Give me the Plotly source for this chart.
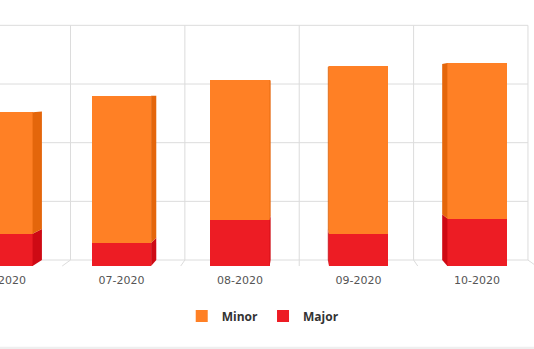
import plotly.graph_objects as go

# Monthly issue counts, stacked: Major at the base, Minor on top
months = ["06-2020", "07-2020", "08-2020", "09-2020", "10-2020"]
minor = [200, 242, 230, 276, 256]
major = [53, 38, 76, 53, 78]
grid_values = [0, 100, 200, 300, 400]

ORANGE, ORANGE_SIDE = "#FF8025", "#E4660B"
RED, RED_SIDE = "#ED1C24", "#CE0A14"
GRID = "#DCDCDC"

BAR_WIDTH = 0.5
DEPTH = 0.965            # scale of the back wall relative to the front plane
VX, VY = 2.5, 281.0      # vanishing point, in data units


def back(x, y):
    """Project a front-plane point onto the back wall of the pseudo-3D box."""
    return VX + (x - VX) * DEPTH, VY + (y - VY) * DEPTH


xs = list(range(len(months)))
fig = go.Figure()

# Darker side faces give the columns their depth
for i in xs:
    edge = i + BAR_WIDTH / 2 if i < VX else i - BAR_WIDTH / 2
    segments = [(0, major[i], RED_SIDE), (major[i], major[i] + minor[i], ORANGE_SIDE)]
    for y0, y1, col in segments:
        bx, by1 = back(edge, y1)
        _, by0 = back(edge, y0)
        fig.add_trace(go.Scatter(
            x=[edge, edge, bx, bx, edge], y=[y0, y1, by1, by0, y0],
            mode="lines", fill="toself", fillcolor=col,
            line=dict(width=0, color=col), hoverinfo="skip", showlegend=False))

fig.add_trace(go.Bar(x=xs, y=major, name="Major", marker=dict(color=RED, line=dict(width=0)),
                     width=BAR_WIDTH, legendrank=2))
fig.add_trace(go.Bar(x=xs, y=minor, name="Minor", marker=dict(color=ORANGE, line=dict(width=0)),
                     width=BAR_WIDTH, legendrank=1))

# Back-wall grid, drawn beneath the columns
shapes = []
right_wall = back(len(months) - 0.5, 0)[0]
top_y = back(0, grid_values[-1])[1]
floor_y = back(0, grid_values[0])[1]
for v in grid_values:
    gy = back(0, v)[1]
    shapes.append(dict(type="line", xref="x", yref="y", x0=-1, x1=right_wall, y0=gy, y1=gy,
                       line=dict(color=GRID, width=1), layer="below"))
for b in [i - 0.5 for i in xs] + [len(months) - 0.5]:
    bx = back(b, 0)[0]
    shapes.append(dict(type="line", xref="x", yref="y", x0=bx, x1=bx, y0=floor_y, y1=top_y,
                       line=dict(color=GRID, width=1), layer="below"))
    shapes.append(dict(type="line", xref="x", yref="y", x0=b, x1=bx, y0=0, y1=floor_y,
                       line=dict(color=GRID, width=1), layer="below"))
# thin strip along the bottom edge of the panel
shapes.append(dict(type="rect", xref="paper", yref="paper", x0=-0.01, x1=1.01,
                   y0=-0.2926, y1=-0.2845, fillcolor="#EFEFEF", line=dict(width=0), layer="below"))

fig.update_layout(
    width=534, height=349,
    margin=dict(l=0, r=0, t=0, b=79),
    paper_bgcolor="white", plot_bgcolor="white",
    barmode="stack", bargap=0,
    shapes=shapes,
    showlegend=True,
    legend=dict(orientation="h", x=0.492, xanchor="center", y=-0.17, yanchor="middle",
                traceorder="normal",
                font=dict(family="Open Sans", size=12, color="#333333", weight="bold"),
                itemclick=False),
    xaxis=dict(range=[-0.025, 4.481], tickvals=xs, ticktext=months, showgrid=False,
               zeroline=False, showline=False, ticks="", ticklabeloverflow="allow",
               ticklabelstandoff=2, automargin=False,
               tickfont=dict(family="DejaVu Sans", size=11, color="#555555")),
    yaxis=dict(range=[-6.58, 437.5], showgrid=False, zeroline=False, showline=False,
               showticklabels=False, ticks="", automargin=False),
)

fig.write_html("out.html")
